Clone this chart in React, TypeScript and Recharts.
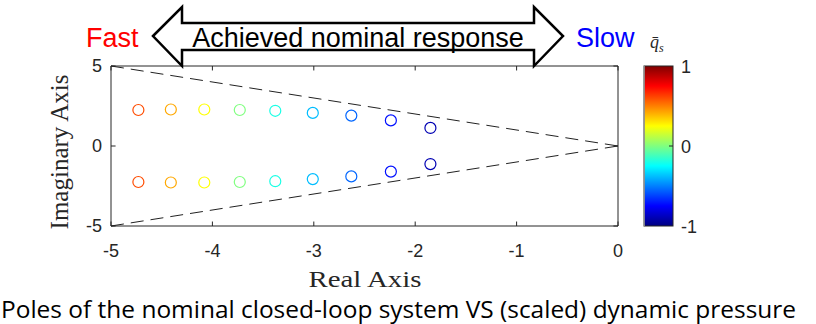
import React from "react";
import { ScatterChart, Scatter, XAxis, YAxis, ReferenceLine, Label } from "recharts";

// closed-loop poles (real part, upper / lower imaginary part) and scaled dynamic pressure
const realPart = [-4.73, -4.41, -4.08, -3.73, -3.38, -3.01, -2.63, -2.24, -1.85];
const imagUpper = [2.25, 2.28, 2.28, 2.25, 2.2, 2.07, 1.9, 1.6, 1.13];
const imagLower = [-2.25, -2.28, -2.28, -2.25, -2.2, -2.07, -1.9, -1.6, -1.13];
const qBar = [0.6, 0.42, 0.25, 0.0, -0.2, -0.38, -0.55, -0.72, -0.9];

// damping boundary (dashed)
const upperBound = [{ x: -5, y: 5 }, { x: 0, y: 0 }];
const lowerBound = [{ x: -5, y: -5 }, { x: 0, y: 0 }];

const xTicks = [-5, -4, -3, -2, -1, 0];
const yTicks = [-5, 0, 5];
const cbTicks = [1, 0, -1];

const AXIS = "#262626";
const SANS = "'Liberation Sans', Arial, sans-serif";
const SERIF = "'Liberation Serif', 'Times New Roman', serif";

// matlab jet colormap, q in [-1, 1]
const jet = (q: number) => {
  const v = (q + 1) / 2;
  const c = (d: number) =>
    Math.round(255 * Math.min(1, Math.max(0, 1.5 - Math.abs(4 * v - d))));
  return `rgb(${c(3)},${c(2)},${c(1)})`;
};

const upperPoles = realPart.map((x, i) => ({ x, y: imagUpper[i], q: qBar[i] }));
const lowerPoles = realPart.map((x, i) => ({ x, y: imagLower[i], q: qBar[i] }));

const Ring = (props: any) => (
  <circle
    cx={props.cx}
    cy={props.cy}
    r={5.5}
    fill="none"
    stroke={jet(props.payload.q)}
    strokeWidth={1.2}
  />
);

// colorbar geometry
const CB = { x: 644, y: 66, w: 29, h: 160 };
const cbY = (t: number) => CB.y + ((1 - t) / 2) * CB.h;

export default function App() {
  const tickX = 0.28; // inner tick length in y units
  const tickY = 0.045; // inner tick length in x units

  return (
    <div style={{ position: "absolute", left: 0, top: 0, width: 816, height: 324, background: "#fff" }}>
      <ScatterChart
        width={816}
        height={324}
        margin={{ top: 66, right: 198, bottom: 58, left: 41 }}
      >
        <XAxis
          type="number"
          dataKey="x"
          domain={[-5, 0]}
          ticks={xTicks}
          height={40}
          tickSize={0}
          tickMargin={18}
          tickLine={false}
          axisLine={{ stroke: AXIS }}
          tick={{ fill: AXIS, fontSize: 18, fontFamily: SANS }}
          allowDataOverflow
        >
          <Label
            content={({ viewBox }: any) => (
              <text
                x={viewBox.x + viewBox.width / 2 - 56}
                y={viewBox.y + 61}
                textLength={113}
                lengthAdjust="spacingAndGlyphs"
                fontFamily={SERIF}
                fontSize={24}
                fill={AXIS}
              >
                Real Axis
              </text>
            )}
          />
        </XAxis>
        <YAxis
          type="number"
          dataKey="y"
          domain={[-5, 5]}
          ticks={yTicks}
          width={70}
          tickSize={0}
          tickMargin={9}
          tickLine={false}
          axisLine={{ stroke: AXIS }}
          tick={{ fill: AXIS, fontSize: 18, fontFamily: SANS }}
          allowDataOverflow
        >
          <Label
            content={({ viewBox }: any) => {
              const cx = viewBox.x + 18;
              const cy = viewBox.y + viewBox.height / 2 + 6;
              return (
                <text
                  x={cx}
                  y={cy}
                  transform={`rotate(-90, ${cx}, ${cy})`}
                  textAnchor="middle"
                  dominantBaseline="central"
                  fontFamily={SERIF}
                  fontSize={25}
                  fill={AXIS}
                >
                  Imaginary Axis
                </text>
              );
            }}
          />
        </YAxis>

        {/* box */}
        <ReferenceLine y={5} stroke={AXIS} />
        <ReferenceLine x={0} stroke={AXIS} />

        {/* inner ticks, matlab style */}
        {xTicks.map((t) => (
          <ReferenceLine key={"b" + t} segment={[{ x: t, y: -5 }, { x: t, y: -5 + tickX }]} stroke={AXIS} />
        ))}
        {xTicks.map((t) => (
          <ReferenceLine key={"t" + t} segment={[{ x: t, y: 5 }, { x: t, y: 5 - tickX }]} stroke={AXIS} />
        ))}
        {yTicks.map((t) => (
          <ReferenceLine key={"l" + t} segment={[{ x: -5, y: t }, { x: -5 + tickY, y: t }]} stroke={AXIS} />
        ))}
        {yTicks.map((t) => (
          <ReferenceLine key={"r" + t} segment={[{ x: 0, y: t }, { x: -tickY, y: t }]} stroke={AXIS} />
        ))}

        <ReferenceLine segment={upperBound} stroke="#222" strokeDasharray="13 7" />
        <ReferenceLine segment={lowerBound} stroke="#222" strokeDasharray="13 7" />

        <Scatter data={upperPoles} shape={Ring} isAnimationActive={false} />
        <Scatter data={lowerPoles} shape={Ring} isAnimationActive={false} />
      </ScatterChart>

      <svg
        width={816}
        height={324}
        style={{ position: "absolute", left: 0, top: 0, pointerEvents: "none" }}
      >
        <defs>
          <linearGradient id="jet" x1="0" y1="1" x2="0" y2="0">
            <stop offset="0" stopColor="rgb(0,0,128)" />
            <stop offset="0.125" stopColor="rgb(0,0,255)" />
            <stop offset="0.375" stopColor="rgb(0,255,255)" />
            <stop offset="0.625" stopColor="rgb(255,255,0)" />
            <stop offset="0.875" stopColor="rgb(255,0,0)" />
            <stop offset="1" stopColor="rgb(128,0,0)" />
          </linearGradient>
        </defs>

        {/* double arrow */}
        <polygon
          points="153,36 182,7 182,23 534,23 534,7 563,36 534,66 534,50 182,50 182,66"
          fill="#fff"
          stroke="#000"
          strokeWidth={2.5}
          strokeLinejoin="miter"
        />
        <text x={358} y={47} textAnchor="middle" fontFamily={SANS} fontSize={27} fill="#000">
          Achieved nominal response
        </text>
        <text x={86} y={47} fontFamily={SANS} fontSize={27} fill="#ff0000">
          Fast
        </text>
        <text x={576} y={47} fontFamily={SANS} fontSize={27} fill="#0000ff">
          Slow
        </text>

        {/* colorbar */}
        <rect x={CB.x} y={CB.y} width={CB.w} height={CB.h} fill="url(#jet)" stroke={AXIS} strokeWidth={1} />
        <line x1={CB.x} y1={CB.y} x2={CB.x} y2={CB.y + CB.h} stroke="#a0a0a0" strokeWidth={1.5} />
        <line x1={CB.x + CB.w} y1={cbY(0)} x2={CB.x + CB.w - 4} y2={cbY(0)} stroke={AXIS} />
        {cbTicks.map((t) => (
          <text
            key={t}
            x={681}
            y={cbY(t) + 1}
            dominantBaseline="central"
            fontFamily={SANS}
            fontSize={18}
            fill={AXIS}
          >
            {t}
          </text>
        ))}
        <text x={650} y={48} fontFamily={SERIF} fontStyle="italic" fontSize={18} fill={AXIS}>
          q̄
          <tspan fontSize={12} dy={4}>
            s
          </tspan>
        </text>

        {/* caption */}
        <text
          x={1}
          y={318}
          textLength={795}
          lengthAdjust="spacingAndGlyphs"
          fontFamily="'Open Sans', 'Noto Sans', sans-serif"
          fontSize={23}
          fill="#000"
        >
          Poles of the nominal closed-loop system VS (scaled) dynamic pressure
        </text>
      </svg>
    </div>
  );
}
